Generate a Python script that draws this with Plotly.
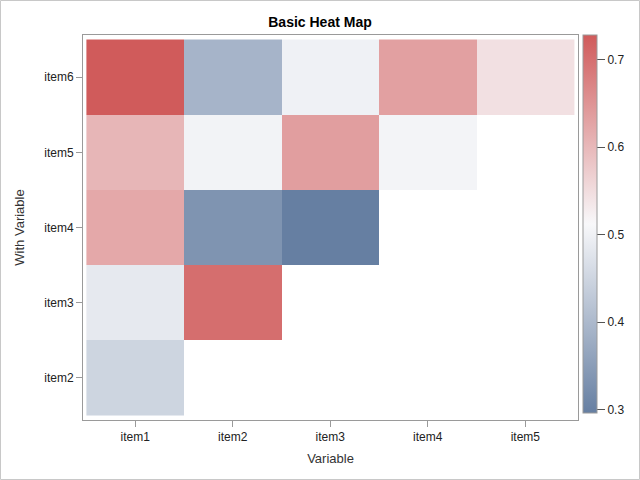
import plotly.graph_objects as go

variables = ["item1", "item2", "item3", "item4", "item5"]
with_variables = ["item2", "item3", "item4", "item5", "item6"]

row_item2 = [0.449, None, None, None, None]
row_item3 = [0.486, 0.702, None, None, None]
row_item4 = [0.622, 0.333, 0.296, None, None]
row_item5 = [0.603, 0.503, 0.636, 0.505, None]
row_item6 = [0.728, 0.391, 0.499, 0.633, 0.545]

colorbar_ticks = [0.3, 0.4, 0.5, 0.6, 0.7]

z = [row_item2, row_item3, row_item4, row_item5, row_item6]

W, H = 640, 480
L, R, T, B = 83, 62, 35, 60
pw, ph = W - L - R, H - T - B

fig = go.Figure(go.Heatmap(
    x=variables, y=with_variables, z=z,
    colorscale=[[0, "#667FA2"], [0.5, "#F8F8FA"], [1, "#D05B5B"]],
    hoverongaps=False,
    colorbar=dict(
        thickness=14, thicknessmode="pixels",
        len=378, lenmode="pixels",
        x=1 + 5 / pw, xanchor="left", xpad=0,
        y=1 - (224 - T) / ph, yanchor="middle", ypad=0,
        outlinecolor="#9a9a9a", outlinewidth=1,
        tickvals=colorbar_ticks, ticks="outside", ticklen=8,
        tickcolor="#555555",
        tickfont=dict(family="Liberation Sans, Arial", size=12, color="#222222"),
    ),
))

axis_common = dict(
    showgrid=False, zeroline=False, showline=True, mirror=True,
    linecolor="#9a9a9a", linewidth=1, ticks="outside", ticklen=6,
    tickcolor="#9a9a9a",
    tickfont=dict(family="Liberation Sans, Arial", size=12, color="#222222"),
)

fig.update_layout(
    width=W, height=H,
    margin=dict(l=L, r=R, t=T, b=B, autoexpand=False),
    paper_bgcolor="white", plot_bgcolor="white",
    title=dict(text="<b>Basic Heat Map</b>", x=0.5, xanchor="center",
               y=1 - 22 / H, yanchor="middle",
               font=dict(family="Liberation Sans, Arial", size=14, color="#000000")),
    xaxis=dict(axis_common, type="category", range=[-0.535, 4.54],
               title=dict(text="Variable", standoff=10,
                          font=dict(family="Liberation Sans, Arial", size=13, color="#333333"))),
    yaxis=dict(axis_common, type="category", range=[-0.56, 4.56],
               title=dict(text="With Variable", standoff=16,
                          font=dict(family="Liberation Sans, Arial", size=13, color="#333333"))),
    shapes=[dict(type="rect", xref="paper", yref="paper",
                 x0=(-L + 0.5) / pw, x1=1 + (R - 0.5) / pw,
                 y0=(-B + 0.5) / ph, y1=1 + (T - 0.5) / ph,
                 line=dict(color="#c8c8c8", width=1), layer="below")],
)

fig.write_html("out.html", config={"displayModeBar": False},
               post_script="document.body.style.margin='0';")
